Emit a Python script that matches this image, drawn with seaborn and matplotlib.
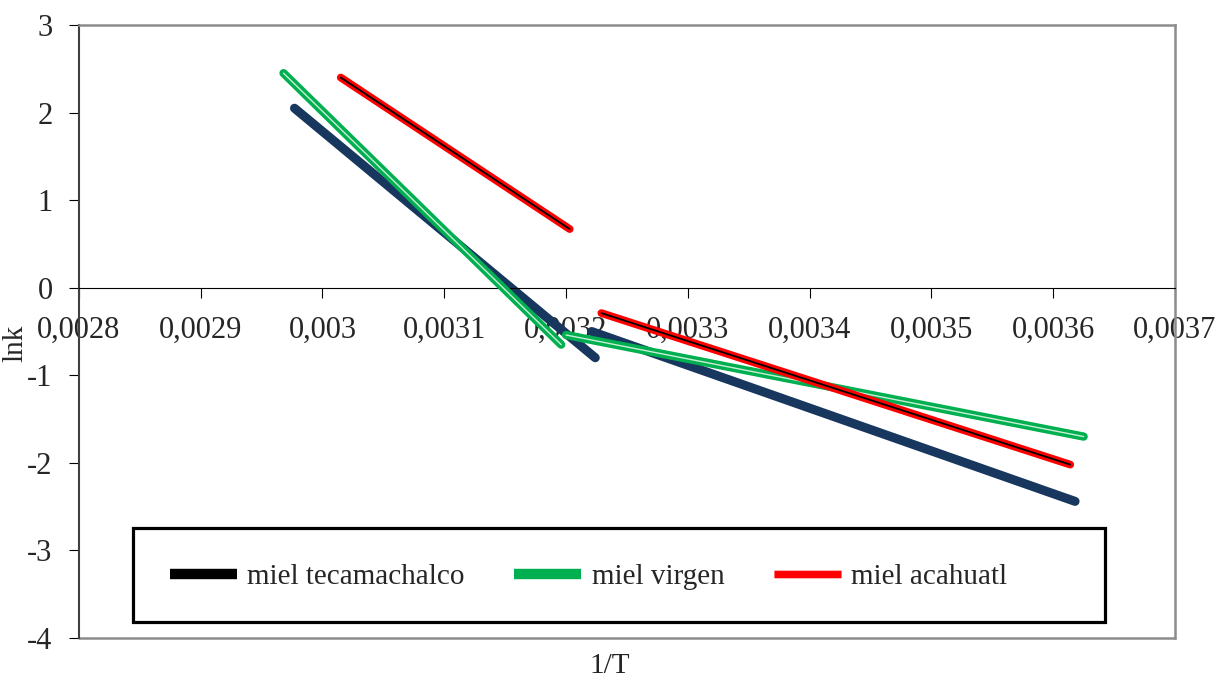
import matplotlib
matplotlib.use('Agg')
import matplotlib.pyplot as plt
import matplotlib.patheffects as pe
from matplotlib.lines import Line2D
from matplotlib.patches import Rectangle
from matplotlib.ticker import FuncFormatter, MultipleLocator
import pandas as pd
import seaborn as sns

sns.set_style('white')
plt.rcParams['font.family'] = ['Liberation Serif', 'DejaVu Serif']

# Data: two Arrhenius segments per honey (1/T, ln k)
series_names = ['miel tecamachalco', 'miel virgen', 'miel acahuatl']

tec_x1 = [0.002977, 0.003224]
tec_y1 = [2.05, -0.80]
tec_x2 = [0.003221, 0.003618]
tec_y2 = [-0.50, -2.44]

vir_x1 = [0.002968, 0.003196]
vir_y1 = [2.45, -0.65]
vir_x2 = [0.003200, 0.003625]
vir_y2 = [-0.54, -1.70]

aca_x1 = [0.003015, 0.003203]
aca_y1 = [2.40, 0.67]
aca_x2 = [0.003229, 0.003614]
aca_y2 = [-0.29, -2.02]

x_ticks = [0.0028, 0.0029, 0.0030, 0.0031, 0.0032, 0.0033, 0.0034, 0.0035, 0.0036, 0.0037]
y_ticks = [-4, -3, -2, -1, 0, 1, 2, 3]

segments = [
    ('miel tecamachalco', tec_x1, tec_y1),
    ('miel tecamachalco', tec_x2, tec_y2),
    ('miel virgen', vir_x1, vir_y1),
    ('miel virgen', vir_x2, vir_y2),
    ('miel acahuatl', aca_x1, aca_y1),
    ('miel acahuatl', aca_x2, aca_y2),
]

fig = plt.figure(figsize=(12.22, 6.8), dpi=100)
ax = fig.add_axes([0.0646, 0.0618, 0.8969, 0.9014])

for name, xs, ys in segments:
    seg = pd.DataFrame({'x': xs, 'y': ys})
    if name == 'miel tecamachalco':
        sns.lineplot(data=seg, x='x', y='y', ax=ax, color='#17375E', lw=6.5,
                     sort=False, solid_capstyle='round', zorder=2)
    elif name == 'miel virgen':
        sns.lineplot(data=seg, x='x', y='y', ax=ax, color='#c9eed6', lw=1.0,
                     sort=False, solid_capstyle='round', zorder=3,
                     path_effects=[pe.Stroke(linewidth=6.0, foreground='#00B050',
                                             capstyle='round'), pe.Normal()])
    else:
        sns.lineplot(data=seg, x='x', y='y', ax=ax, color='black', lw=1.3,
                     sort=False, solid_capstyle='round', zorder=4,
                     path_effects=[pe.Stroke(linewidth=5.6, foreground='#FF0000',
                                             capstyle='round'), pe.Normal()])

ax.set_xlim(x_ticks[0], x_ticks[-1])
ax.set_ylim(y_ticks[0], y_ticks[-1])
ax.set_xticks(x_ticks)
ax.set_yticks(y_ticks)
ax.xaxis.set_major_formatter(FuncFormatter(
    lambda v, p: ('%.4f' % v).rstrip('0').replace('.', ',')))
ax.yaxis.set_major_formatter(FuncFormatter(lambda v, p: '%d' % round(v)))

# x axis drawn on the zero line, plot area framed in grey
ax.spines['bottom'].set_position(('data', 0))
ax.spines['bottom'].set_color('black')
ax.spines['bottom'].set_linewidth(0.8)
ax.spines['left'].set_color('#404040')
ax.spines['left'].set_linewidth(1.5)
for s in ['top', 'right']:
    ax.spines[s].set_color('#8c8c8c')
    ax.spines[s].set_linewidth(1.8)
ax.axhline(-4, color='#8c8c8c', lw=1.8, clip_on=False, zorder=1)

ax.tick_params(axis='x', direction='out', length=7, width=0.8, color='black',
               pad=13, labelsize=22, bottom=True)
ax.tick_params(axis='y', direction='out', length=7, width=0.8, color='black',
               pad=12, labelsize=22, left=True)

ax.set_xlabel('1/T', fontsize=21)
ax.xaxis.set_label_coords(0.484, -0.024)
ax.set_ylabel('lnk', fontsize=21)
ax.yaxis.set_label_coords(-0.046, 0.48)

# Legend with a heavy black frame
ax.add_patch(Rectangle((0.0493, 0.026), 0.887, 0.1535, transform=ax.transAxes,
                       facecolor='white', edgecolor='black', lw=2.3, zorder=5))
handles = [
    Line2D([], [], color='black', lw=7.5, solid_capstyle='butt'),
    Line2D([], [], color='#00B050', lw=7.5, solid_capstyle='butt'),
    Line2D([], [], color='#FF0000', lw=5, solid_capstyle='butt',
           path_effects=[pe.Stroke(linewidth=6.5, foreground='#ffb0b0'), pe.Normal()]),
]
leg = ax.legend(handles, series_names, loc='center left',
                bbox_to_anchor=(0.083, 0.0995), ncol=3, frameon=False,
                fontsize=21, handlelength=2.3, handletextpad=0.35,
                columnspacing=1.7, borderpad=0, borderaxespad=0)
leg.set_zorder(6)

fig.savefig('out.png', dpi=100)
